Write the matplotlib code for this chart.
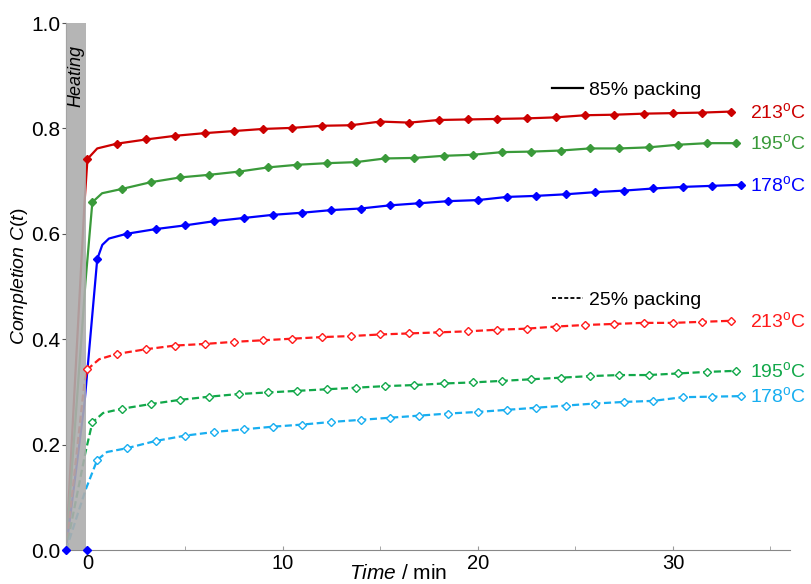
import matplotlib
matplotlib.use("Agg")
import matplotlib.pyplot as plt
from matplotlib.lines import Line2D
from matplotlib.ticker import FormatStrFormatter, MultipleLocator

plt.rcParams["font.family"] = "Liberation Sans"
plt.rcParams["mathtext.fontset"] = "custom"
plt.rcParams["mathtext.rm"] = "Liberation Sans"
plt.rcParams["mathtext.it"] = "Liberation Sans:italic"

#########################################################
# DATA  (time in min, completion C(t))
#########################################################

heating_start = -1.1
heating_end = -0.08

t_213 = [0.0, 1.5, 3.0, 4.5, 6.0, 7.5, 9.0, 10.5, 12.0, 13.5, 15.0, 16.5,
         18.0, 19.5, 21.0, 22.5, 24.0, 25.5, 27.0, 28.5, 30.0, 31.5, 33.0]
t_195 = [0.25, 1.75, 3.25, 4.75, 6.25, 7.75, 9.25, 10.75, 12.25, 13.75, 15.25, 16.75,
         18.25, 19.75, 21.25, 22.75, 24.25, 25.75, 27.25, 28.75, 30.25, 31.75, 33.25]
t_178 = [0.5, 2.0, 3.5, 5.0, 6.5, 8.0, 9.5, 11.0, 12.5, 14.0, 15.5, 17.0,
         18.5, 20.0, 21.5, 23.0, 24.5, 26.0, 27.5, 29.0, 30.5, 32.0, 33.5]

# 85% packing
c85_213 = [0.742, 0.771, 0.779, 0.786, 0.791, 0.795, 0.799, 0.801, 0.805, 0.806, 0.813, 0.811,
           0.816, 0.817, 0.818, 0.819, 0.821, 0.825, 0.826, 0.828, 0.829, 0.830, 0.832]
c85_195 = [0.660, 0.685, 0.698, 0.707, 0.712, 0.718, 0.726, 0.731, 0.734, 0.736, 0.743, 0.744,
           0.748, 0.750, 0.755, 0.756, 0.758, 0.762, 0.762, 0.764, 0.769, 0.772, 0.772]
c85_178 = [0.552, 0.600, 0.609, 0.616, 0.624, 0.630, 0.636, 0.640, 0.645, 0.648, 0.654, 0.658,
           0.662, 0.664, 0.670, 0.672, 0.675, 0.679, 0.682, 0.686, 0.689, 0.691, 0.693]

# 25% packing
c25_213 = [0.343, 0.372, 0.381, 0.388, 0.391, 0.395, 0.398, 0.401, 0.404, 0.406, 0.409, 0.411,
           0.413, 0.415, 0.418, 0.420, 0.424, 0.427, 0.429, 0.431, 0.431, 0.433, 0.435]
c25_195 = [0.242, 0.268, 0.277, 0.285, 0.291, 0.296, 0.299, 0.302, 0.305, 0.308, 0.311, 0.313,
           0.316, 0.318, 0.321, 0.324, 0.327, 0.330, 0.332, 0.332, 0.335, 0.338, 0.340]
c25_178 = [0.171, 0.193, 0.207, 0.217, 0.224, 0.229, 0.234, 0.238, 0.243, 0.247, 0.251, 0.255,
           0.259, 0.262, 0.266, 0.270, 0.274, 0.278, 0.281, 0.283, 0.290, 0.291, 0.292]

# curve during heating (lead) and just after it (knee), no markers there
lead_t = {"85_213": [heating_start, -0.15], "85_195": [heating_start, -0.1], "85_178": [heating_start, -0.15],
          "25_213": [heating_start, -0.15], "25_195": [heating_start, -0.1], "25_178": [heating_start, -0.1]}
lead_c = {"85_213": [0.0, 0.66], "85_195": [0.0, 0.51], "85_178": [0.0, 0.28],
          "25_213": [0.0, 0.32], "25_195": [0.0, 0.186], "25_178": [0.0, 0.114]}
knee_t = {"85_213": [0.5], "85_195": [0.75], "85_178": [0.76, 1.1],
          "25_213": [0.6], "25_195": [0.8], "25_178": [1.0]}
knee_c = {"85_213": [0.762], "85_195": [0.677], "85_178": [0.579, 0.591],
          "25_213": [0.362], "25_195": [0.260], "25_178": [0.186]}

# start points of the 178 oC run
onset_t = [heating_start, 0.0]
onset_c = [0.0, 0.0]

series = [
    ("85_213", t_213, c85_213, "#cc0000", "-", True, "213"),
    ("85_195", t_195, c85_195, "#3a9a3a", "-", True, "195"),
    ("85_178", t_178, c85_178, "#0000ff", "-", True, "178"),
    ("25_213", t_213, c25_213, "#ff1a1a", "--", False, "213"),
    ("25_195", t_195, c25_195, "#12a84a", "--", False, "195"),
    ("25_178", t_178, c25_178, "#18aef0", "--", False, "178"),
]

# temperature labels all start at the same time position
label_x = 33.95

#########################################################
# PLOT
#########################################################

fig = plt.figure(figsize=(8.12, 5.84), dpi=100)
ax = fig.add_axes([0.0813, 0.0582, 0.8916, 0.9024])

for key, t, c, color, ls, filled, temp in series:

    path_t = lead_t[key] + t[:1] + knee_t[key] + t[1:]
    path_c = lead_c[key] + c[:1] + knee_c[key] + c[1:]

    dash = (0, (3.2, 1.6)) if ls == "--" else "-"

    ax.plot(path_t, path_c, color=color, linestyle=dash, linewidth=1.6, zorder=2)

    ax.plot(
        t, c,
        linestyle="none",
        marker="D",
        markersize=4.5,
        markerfacecolor=color if filled else "white",
        markeredgecolor=color,
        markeredgewidth=1.0,
        zorder=4
    )

    ax.text(
        label_x, c[-1], temp + r"$^{\rm o}$C",
        color=color,
        fontsize=14,
        va="center",
        ha="left",
        clip_on=False
    )

ax.plot(onset_t, onset_c, linestyle="none", marker="D", markersize=4.5,
        color="#0000ff", zorder=5, clip_on=False)

#########################################################
# HEATING BAND
#########################################################

ax.axvspan(heating_start, heating_end, color="#adadad", alpha=0.9, lw=0, zorder=3)

ax.text(
    (heating_start + heating_end) / 2, 0.958, "Heating",
    rotation=90, style="italic", fontsize=13,
    ha="center", va="top", zorder=6
)

#########################################################
# LEGEND
#########################################################

leg1 = ax.legend(
    handles=[Line2D([0], [0], color="black", linewidth=1.6)],
    labels=["85% packing"],
    loc="center left", bbox_to_anchor=(0.671, 0.873),
    frameon=False, fontsize=14, handlelength=1.6,
    handletextpad=0.3, borderpad=0, borderaxespad=0
)
ax.add_artist(leg1)

ax.legend(
    handles=[Line2D([0], [0], color="black", linewidth=1.3, linestyle=(0, (2.2, 1.2)))],
    labels=["25% packing"],
    loc="center left", bbox_to_anchor=(0.671, 0.474),
    frameon=False, fontsize=14, handlelength=1.6,
    handletextpad=0.3, borderpad=0, borderaxespad=0
)

#########################################################
# AXES
#########################################################

ax.set_xlim(heating_start, 36.0)
ax.set_ylim(0.0, 1.0)

ax.xaxis.set_major_locator(MultipleLocator(10))
ax.xaxis.set_minor_locator(MultipleLocator(5))
ax.yaxis.set_major_locator(MultipleLocator(0.2))
ax.yaxis.set_major_formatter(FormatStrFormatter("%.1f"))

ax.spines["top"].set_visible(False)
ax.spines["right"].set_visible(False)
ax.spines["left"].set_color("#555555")
ax.spines["bottom"].set_color("#888888")

ax.tick_params(axis="x", which="both", direction="in", length=3, color="#999999",
               labelsize=14.5, pad=3)
ax.tick_params(axis="y", direction="out", length=3, color="#555555", labelsize=15, pad=1)

ax.set_xlabel(r"$\it{Time}$ / min", fontsize=15)
ax.xaxis.set_label_coords(0.459, -0.026)

ax.set_ylabel(r"$\it{Completion\ C(t)}$", fontsize=14)
ax.yaxis.set_label_coords(-0.05, 0.52)

plt.savefig("out.png", dpi=100)
plt.close()
